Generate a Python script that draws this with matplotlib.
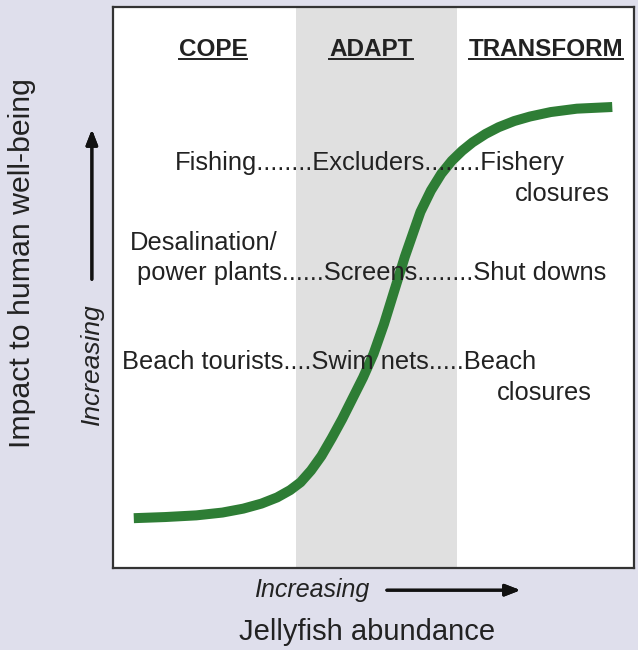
import matplotlib.pyplot as plt
from matplotlib.lines import Line2D

plt.rcParams['font.family'] = ['Liberation Sans', 'DejaVu Sans']

# curve (x: jellyfish abundance, y: impact), 0-100 scale
abundance = [4.0, 10.0, 16.0, 21.0, 25.0, 28.5, 31.5, 34.0, 36.0, 38.0, 40.0,
             42.0, 44.0, 46.0, 48.0, 50.0, 52.0, 54.0, 56.0, 57.5, 59.0, 61.0,
             63.0, 65.0, 67.0, 69.0, 71.5, 74.0, 77.0, 80.0, 84.0, 89.0, 95.8]
impact = [8.9, 9.1, 9.4, 9.9, 10.6, 11.5, 12.6, 13.9, 15.3, 17.4, 20.0,
          23.2, 26.6, 30.3, 34.0, 38.2, 43.5, 49.5, 55.5, 59.5, 63.5, 67.3,
          70.3, 72.6, 74.4, 75.9, 77.4, 78.6, 79.7, 80.5, 81.3, 81.9, 82.2]

adapt_band = (35.1, 66.0)

headings = ['COPE', 'ADAPT', 'TRANSFORM']
heading_x = [19.2, 49.5, 83.1]

labels = ['Fishing........Excluders........Fishery', 'closures', 'Desalination/',
          'power plants......Screens........Shut downs',
          'Beach tourists....Swim nets.....Beach', 'closures']
label_x = [11.9, 77.2, 3.3, 4.6, 1.7, 73.7]
label_y = [72.2, 66.7, 57.9, 52.6, 36.7, 31.2]

bg = '#dfdfec'
txt = '#222222'

fig = plt.figure(figsize=(6.38, 6.5), dpi=100, facecolor=bg)
ax = fig.add_axes([0.177, 0.126, 0.817, 0.863])
ax.set_xlim(0, 100)
ax.set_ylim(0, 100)
ax.set_xticks([])
ax.set_yticks([])
for s in ax.spines.values():
    s.set_color('#333333')
    s.set_linewidth(1.6)

ax.axvspan(*adapt_band, color='#e0e0e0', lw=0, zorder=0)
ax.plot(abundance, impact, color='#2e7d35', lw=7.2, solid_capstyle='butt',
        solid_joinstyle='round', zorder=2)

heads = []
for h, x in zip(headings, heading_x):
    heads.append(ax.text(x, 92.5, h, ha='center', va='center', fontsize=17.5,
                         fontweight='bold', color=txt, zorder=3))
for t, x, y in zip(labels, label_x, label_y):
    ax.text(x, y, t, ha='left', va='center', fontsize=18.4, color=txt, zorder=3)

# axis titles and arrows
fig.text(0.034, 0.595, 'Impact to human well-being', rotation=90, ha='center',
         va='center', fontsize=21.8, color=txt)
fig.text(0.144, 0.44, 'Increasing', rotation=90, ha='center', va='center',
         fontsize=19, style='italic', color=txt)
fig.text(0.488, 0.092, 'Increasing', ha='center', va='center', fontsize=18,
         style='italic', color=txt)
fig.text(0.575, 0.028, 'Jellyfish abundance', ha='center', va='center',
         fontsize=21, color=txt)
arrow = dict(arrowstyle='-|>,head_length=0.9,head_width=0.35', color='#111111', lw=2.2)
fig.add_artist(plt.annotate('', xy=(0.144, 0.805), xytext=(0.144, 0.566),
                            xycoords='figure fraction', arrowprops=arrow))
fig.add_artist(plt.annotate('', xy=(0.820, 0.092), xytext=(0.602, 0.092),
                            xycoords='figure fraction', arrowprops=arrow))

# underline the headings
fig.canvas.draw()
r = fig.canvas.get_renderer()
for h in heads:
    bb = h.get_window_extent(r).transformed(fig.transFigure.inverted())
    yl = bb.y0 + 0.002
    fig.add_artist(Line2D([bb.x0, bb.x1], [yl, yl], color=txt, lw=1.4))

fig.savefig('out.png', dpi=100, facecolor=bg)
